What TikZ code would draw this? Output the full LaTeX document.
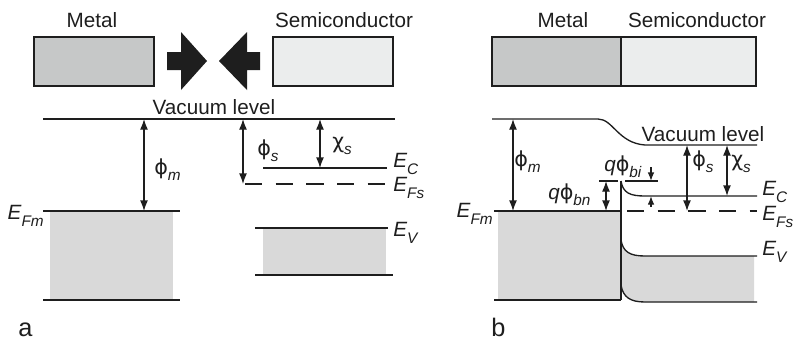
\documentclass[tikz,border=0pt]{standalone}
\usepackage{fontspec}
\setmainfont{Liberation Sans}
\newfontfamily\grk{DejaVu Sans}
\usetikzlibrary{arrows.meta}
\usepackage{xcolor}

\definecolor{ink}{HTML}{1E1E1E}
\definecolor{metalgray}{HTML}{C6C8C8}
\definecolor{semigray}{HTML}{EBEDED}
\definecolor{bandgray}{HTML}{D9D9D9}

\newcommand{\lblsize}{\fontsize{15.5}{18}\selectfont}
\newcommand{\subsize}{\fontsize{11.5}{13}\selectfont}
\newcommand{\lev}[2]{\textit{#1}\raisebox{-0.7ex}{\subsize\textit{#2}}}
\newcommand{\gk}[2]{{\grk #1}\raisebox{-0.6ex}{\subsize\textit{#2}}}

\begin{document}
\begin{tikzpicture}[x=0.75pt, y=-0.75pt,
    bandline/.style={ink, line width=1pt},
    dimarrow/.style={bandline, {Latex[length=8pt,width=6pt]}-{Latex[length=8pt,width=6pt]}},
    tiparrow/.style={bandline, -{Latex[length=6.5pt,width=5pt]}},
    lbl/.style={inner sep=0pt, text=ink, font=\lblsize}]
  \useasboundingbox (0,0) rectangle (794,340);

  % (a) separated metal and semiconductor
  \draw[bandline, fill=metalgray] (34,37) rectangle (154,86);
  \draw[bandline, fill=semigray] (273,37) rectangle (393,86);
  \node[lbl, anchor=base] (metalA) at (92,27) {Metal};
  \node[lbl, anchor=base] (semiA) at (344,27) {Semiconductor};
  \fill[ink] (167,52) -- (181,52) -- (181,32) -- (207,61) -- (181,90) -- (181,70) -- (167,70) -- cycle;
  \fill[ink] (260,52) -- (247,52) -- (247,32) -- (219,61) -- (247,90) -- (247,70) -- (260,70) -- cycle;

  \fill[bandgray] (50,211) rectangle (173,300);
  \fill[bandgray] (263,228) rectangle (386,275);
  \coordinate (vacA) at (43,119);
  \coordinate (vacAend) at (395,119);
  \draw[bandline] (vacA) -- (vacAend);
  \node[lbl, anchor=base] (vacAlbl) at (214,114) {Vacuum level};
  \draw[bandline] (43,211) coordinate (efmA) -- (180,211);
  \draw[bandline] (43,300) -- (180,300);
  \draw[bandline] (263,168) -- (387,168) coordinate (ecA);
  \draw[bandline, dash pattern=on 13pt off 10pt] (245,184) -- (387,184) coordinate (efsA);
  \draw[bandline] (255,228) -- (388,228) coordinate (evA);
  \draw[bandline] (255,275) -- (393,275);

  \draw[dimarrow] (144,119) -- (144,211);
  \draw[dimarrow] (243,119) -- (243,184);
  \draw[dimarrow] (320,119) -- (320,168);
  \node[lbl, anchor=base west] (phimA) at (154,174) {\gk{ϕ}{m}};
  \node[lbl, anchor=base west] (phisA) at (257,155) {\gk{ϕ}{s}};
  \node[lbl, anchor=base west] (chisA) at (332,148) {\gk{χ}{s}};
  \node[lbl, anchor=base east] (efmAlbl) at (44,219) {\lev{E}{Fm}};
  \node[lbl, anchor=base west] (ecAlbl) at (393,167) {\lev{E}{C}};
  \node[lbl, anchor=base west] (efsAlbl) at (393,191) {\lev{E}{Fs}};
  \node[lbl, anchor=base west] (evAlbl) at (393,236) {\lev{E}{V}};
  \node[lbl, anchor=base west, font=\fontsize{19}{22}\selectfont] (tagA) at (18,336) {a};

  % (b) metal-semiconductor contact
  \fill[metalgray] (492,37) rectangle (621,86);
  \fill[semigray] (621,37) rectangle (756,86);
  \draw[bandline] (492,37) rectangle (756,86);
  \draw[bandline] (621,37) -- (621,86);
  \node[lbl, anchor=base] (metalB) at (563,27) {Metal};
  \node[lbl, anchor=base] (semiB) at (697,27) {Semiconductor};

  \fill[bandgray] (498,211) rectangle (621,300);
  \fill[bandgray] (621,240) .. controls (623,252) and (630,256) .. (645,256) -- (754,256)
    -- (754,302) -- (645,302) .. controls (630,302) and (623,297) .. (621,285) -- cycle;
  \draw[bandline] (492,119) -- (598,119) .. controls (613,119) and (618,143) .. (645,145) -- (757,145);
  \node[lbl, anchor=base] (vacBlbl) at (703,141) {Vacuum level};
  \draw[bandline] (494,211) -- (621,211);
  \draw[bandline] (494,300) -- (621,300);
  \draw[bandline] (621,181) -- (621,300);
  \draw[bandline] (621,181) .. controls (623,193) and (630,196) .. (645,196) -- (757,196);
  \draw[bandline, dash pattern=on 13pt off 10pt] (627,211) -- (757,211);
  \draw[bandline] (621,240) .. controls (623,252) and (630,256) .. (645,256) -- (757,256);
  \draw[bandline] (621,285) .. controls (623,297) and (630,302) .. (645,302) -- (757,302);

  \draw[bandline] (599,181) -- (618,181);
  \draw[bandline] (625,181) -- (658,181);
  \draw[dimarrow] (513,119) -- (513,211);
  \draw[dimarrow] (606,181) -- (606,211);
  \draw[tiparrow] (651,167) -- (651,181);
  \draw[tiparrow] (651,207) -- (651,196);
  \draw[dimarrow] (687,145) -- (687,211);
  \draw[dimarrow] (727,145) -- (727,196);

  \node[lbl, anchor=base west] (phimB) at (514,166) {\gk{ϕ}{m}};
  \node[lbl, anchor=base west] (qphibn) at (548,199) {\textit{q}\gk{ϕ}{bn}};
  \node[lbl, anchor=base west] (qphibi) at (604,171) {\textit{q}\gk{ϕ}{bi}};
  \node[lbl, anchor=base west] (phisB) at (692,166) {\gk{ϕ}{s}};
  \node[lbl, anchor=base west] (chisB) at (731,166) {\gk{χ}{s}};
  \node[lbl, anchor=base east] (efmBlbl) at (493,217) {\lev{E}{Fm}};
  \node[lbl, anchor=base west] (ecBlbl) at (762,195) {\lev{E}{C}};
  \node[lbl, anchor=base west] (efsBlbl) at (762,220) {\lev{E}{Fs}};
  \node[lbl, anchor=base west] (evBlbl) at (762,255) {\lev{E}{V}};
  \node[lbl, anchor=base west, font=\fontsize{19}{22}\selectfont] (tagB) at (491,336) {b};
\end{tikzpicture}
\end{document}
